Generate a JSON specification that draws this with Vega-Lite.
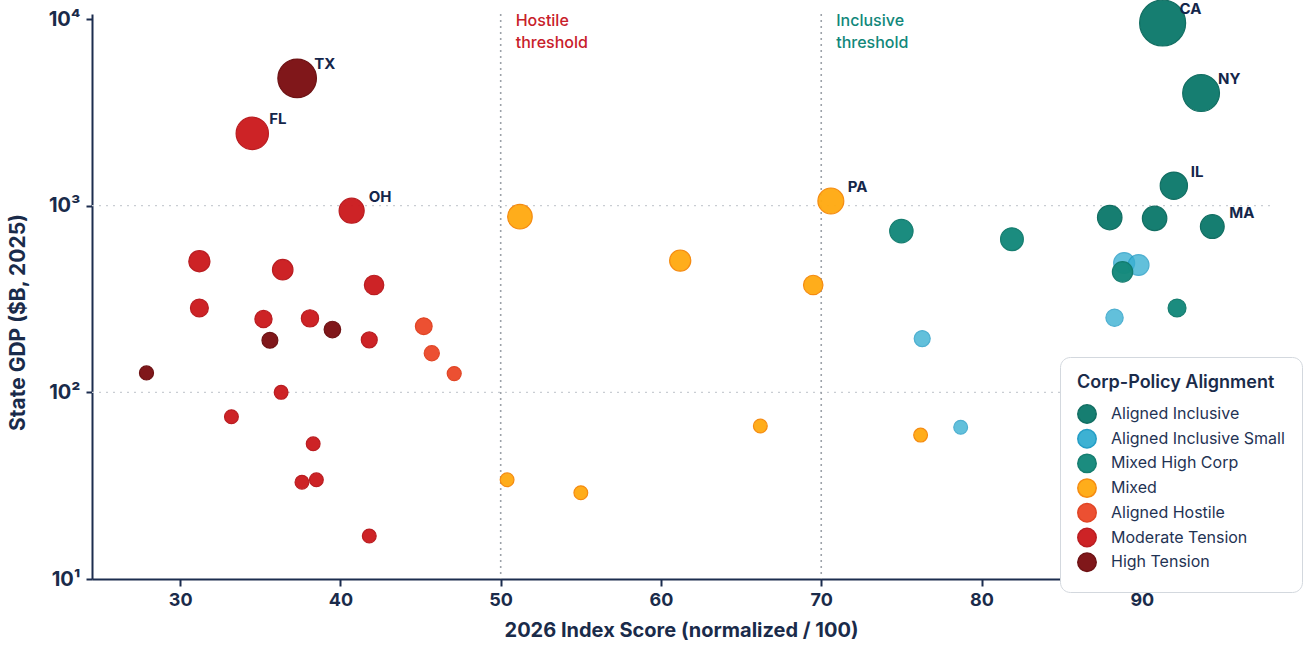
{
  "$schema": "https://vega.github.io/schema/vega-lite/v6.json",
  "width": 1178,
  "height": 565,
  "autosize": {"type": "none"},
  "padding": {"left": 92, "top": 14, "right": 43, "bottom": 69},
  "background": "white",
  "config": {
    "view": {"stroke": null},
    "font": "Inter",
    "axisX": {
      "grid": false,
      "domainColor": "#1c2d4f", "domainWidth": 2,
      "tickColor": "#1c2d4f", "tickWidth": 2, "tickSize": 7,
      "labelFontSize": 18, "labelFontWeight": "bold", "labelColor": "#1a2b4a", "labelPadding": 5,
      "titleFontSize": 20, "titleFontWeight": "bold", "titleColor": "#1a2b4a", "titlePadding": 11
    },
    "axisY": {
      "grid": false,
      "domainColor": "#1c2d4f", "domainWidth": 2,
      "tickColor": "#1c2d4f", "tickWidth": 2, "tickSize": 6,
      "labelFontSize": 20, "labelFontWeight": "bold", "labelColor": "#1a2b4a", "labelPadding": 6,
      "titleFontSize": 21, "titleFontWeight": "bold", "titleColor": "#1a2b4a", "titlePadding": 20,
      "titleY": 308
    }
  },
  "datasets": {
    "states": [
      {"state": "TX", "score": 37.3, "gdp": 4810, "group": "High Tension"},
      {"state": "FL", "score": 34.5, "gdp": 2440, "group": "Moderate Tension"},
      {"state": "OH", "score": 40.7, "gdp": 940, "group": "Moderate Tension"},
      {"state": "", "score": 31.2, "gdp": 504, "group": "Moderate Tension"},
      {"state": "", "score": 36.4, "gdp": 454, "group": "Moderate Tension"},
      {"state": "", "score": 42.1, "gdp": 376, "group": "Moderate Tension"},
      {"state": "", "score": 31.2, "gdp": 283, "group": "Moderate Tension"},
      {"state": "", "score": 35.2, "gdp": 247, "group": "Moderate Tension"},
      {"state": "", "score": 38.1, "gdp": 249, "group": "Moderate Tension"},
      {"state": "", "score": 39.5, "gdp": 217, "group": "High Tension"},
      {"state": "", "score": 35.6, "gdp": 190, "group": "High Tension"},
      {"state": "", "score": 41.8, "gdp": 191, "group": "Moderate Tension"},
      {"state": "", "score": 45.2, "gdp": 226, "group": "Aligned Hostile"},
      {"state": "", "score": 45.7, "gdp": 162, "group": "Aligned Hostile"},
      {"state": "", "score": 47.1, "gdp": 126, "group": "Aligned Hostile"},
      {"state": "", "score": 27.9, "gdp": 127, "group": "High Tension"},
      {"state": "", "score": 36.3, "gdp": 100, "group": "Moderate Tension"},
      {"state": "", "score": 33.2, "gdp": 74, "group": "Moderate Tension"},
      {"state": "", "score": 38.3, "gdp": 53, "group": "Moderate Tension"},
      {"state": "", "score": 37.6, "gdp": 33, "group": "Moderate Tension"},
      {"state": "", "score": 38.5, "gdp": 34, "group": "Moderate Tension"},
      {"state": "", "score": 41.8, "gdp": 17, "group": "Moderate Tension"},
      {"state": "", "score": 51.2, "gdp": 873, "group": "Mixed"},
      {"state": "", "score": 61.2, "gdp": 508, "group": "Mixed"},
      {"state": "", "score": 69.5, "gdp": 376, "group": "Mixed"},
      {"state": "PA", "score": 70.6, "gdp": 1060, "group": "Mixed"},
      {"state": "", "score": 50.4, "gdp": 34, "group": "Mixed"},
      {"state": "", "score": 55.0, "gdp": 29, "group": "Mixed"},
      {"state": "", "score": 66.2, "gdp": 66, "group": "Mixed"},
      {"state": "", "score": 76.2, "gdp": 59, "group": "Mixed"},
      {"state": "CA", "score": 91.3, "gdp": 9520, "group": "Aligned Inclusive"},
      {"state": "NY", "score": 93.7, "gdp": 4010, "group": "Aligned Inclusive"},
      {"state": "IL", "score": 92.0, "gdp": 1280, "group": "Aligned Inclusive"},
      {"state": "", "score": 88.0, "gdp": 864, "group": "Aligned Inclusive"},
      {"state": "", "score": 90.8, "gdp": 855, "group": "Aligned Inclusive"},
      {"state": "MA", "score": 94.4, "gdp": 773, "group": "Aligned Inclusive"},
      {"state": "", "score": 75.0, "gdp": 731, "group": "Mixed High Corp"},
      {"state": "", "score": 81.9, "gdp": 661, "group": "Mixed High Corp"},
      {"state": "", "score": 88.9, "gdp": 493, "group": "Aligned Inclusive Small"},
      {"state": "", "score": 89.8, "gdp": 481, "group": "Aligned Inclusive Small"},
      {"state": "", "score": 88.8, "gdp": 442, "group": "Mixed High Corp"},
      {"state": "", "score": 92.2, "gdp": 283, "group": "Mixed High Corp"},
      {"state": "", "score": 88.3, "gdp": 251, "group": "Aligned Inclusive Small"},
      {"state": "", "score": 76.3, "gdp": 194, "group": "Aligned Inclusive Small"},
      {"state": "", "score": 78.7, "gdp": 65, "group": "Aligned Inclusive Small"}
    ],
    "grid": [{"gdp": 100}, {"gdp": 1000}],
    "thresh": [
      {"score": 50, "kind": "hostile", "label": ["Hostile", "threshold"]},
      {"score": 70, "kind": "inclusive", "label": ["Inclusive", "threshold"]}
    ]
  },
  "layer": [
    {
      "data": {"name": "grid"},
      "mark": {"type": "rule", "color": "#c9cdd3", "strokeDash": [2, 5], "strokeWidth": 1.3},
      "encoding": {
        "y": {"field": "gdp", "type": "quantitative", "title": "State GDP ($B, 2025)",
              "scale": {"type": "log", "domain": [10, 10640], "nice": false, "zero": false},
              "axis": {"values": [10, 100, 1000, 10000],
                       "labelExpr": "datum.value === 10 ? '10¹' : datum.value === 100 ? '10²' : datum.value === 1000 ? '10³' : '10⁴'"}}
      }
    },
    {
      "data": {"name": "thresh"},
      "mark": {"type": "rule", "color": "#9da2a9", "strokeDash": [2, 4], "strokeWidth": 1.6},
      "encoding": {
        "x": {"field": "score", "type": "quantitative", "title": "2026 Index Score (normalized / 100)",
              "scale": {"domain": [24.5, 98], "nice": false, "zero": false},
              "axis": {"values": [30, 40, 50, 60, 70, 80, 90]}}
      }
    },
    {
      "data": {"name": "states"},
      "mark": {"type": "circle", "strokeWidth": 1.2},
      "encoding": {
        "x": {
          "field": "score", "type": "quantitative",
          "title": "2026 Index Score (normalized / 100)",
          "scale": {"domain": [24.5, 98], "nice": false, "zero": false},
          "axis": {"values": [30, 40, 50, 60, 70, 80, 90]}
        },
        "y": {
          "field": "gdp", "type": "quantitative",
          "title": "State GDP ($B, 2025)",
          "scale": {"type": "log", "domain": [10, 10640], "nice": false, "zero": false},
          "axis": {"values": [10, 100, 1000, 10000],
                   "labelExpr": "datum.value === 10 ? '10¹' : datum.value === 100 ? '10²' : datum.value === 1000 ? '10³' : '10⁴'"}
        },
        "size": {
          "field": "gdp", "type": "quantitative", "legend": null,
          "scale": {"type": "sqrt", "domain": [120, 9520], "range": [190, 2116], "clamp": true, "zero": false}
        },
        "fill": {
          "field": "group", "type": "nominal",
          "scale": {
            "domain": ["Aligned Inclusive", "Aligned Inclusive Small", "Mixed High Corp", "Mixed", "Aligned Hostile", "Moderate Tension", "High Tension"],
            "range": ["#0f7a6d", "#37afd2", "#14897b", "#ffab14", "#ec4b2c", "#cc1c20", "#7c1013"]
          },
          "legend": {
            "title": "Corp-Policy Alignment",
            "orient": "none", "legendX": 968, "legendY": 343,
            "padding": 17, "cornerRadius": 10,
            "strokeColor": "#d3d8de", "fillColor": "white",
            "titleFontSize": 18, "titleFontWeight": 600, "titleColor": "#1a2b4a", "titlePadding": 12, "titleLimit": 400,
            "labelFontSize": 16, "labelColor": "#1f3354", "labelOffset": 14, "labelLimit": 400,
            "symbolType": "circle", "symbolSize": 340, "rowPadding": -1.3
          }
        },
        "stroke": {
          "field": "group", "type": "nominal",
          "scale": {
            "domain": ["Aligned Inclusive", "Aligned Inclusive Small", "Mixed High Corp", "Mixed", "Aligned Hostile", "Moderate Tension", "High Tension"],
            "range": ["#0b6a5e", "#1e9ac4", "#0f7a6c", "#f5880a", "#e0401f", "#b8161a", "#6a0c0e"]
          }
        },
        "opacity": {
          "condition": {"test": "datum.group === 'Aligned Inclusive Small'", "value": 0.78},
          "value": 0.97
        }
      }
    },
    {
      "data": {"name": "states"},
      "transform": [{"filter": "datum.state !== ''"}],
      "mark": {"type": "text", "align": "left", "baseline": "middle", "dx": 17, "dy": -14,
               "fontSize": 15, "fontWeight": "bold", "color": "#14264a"},
      "encoding": {
        "x": {"field": "score", "type": "quantitative", "title": "2026 Index Score (normalized / 100)",
              "scale": {"domain": [24.5, 98], "nice": false, "zero": false},
              "axis": {"values": [30, 40, 50, 60, 70, 80, 90]}},
        "y": {"field": "gdp", "type": "quantitative", "title": "State GDP ($B, 2025)",
              "scale": {"type": "log", "domain": [10, 10640], "nice": false, "zero": false},
              "axis": {"values": [10, 100, 1000, 10000],
                       "labelExpr": "datum.value === 10 ? '10¹' : datum.value === 100 ? '10²' : datum.value === 1000 ? '10³' : '10⁴'"}},
        "text": {"field": "state"}
      }
    },
    {
      "data": {"name": "thresh"},
      "mark": {"type": "text", "align": "left", "baseline": "top", "dx": 15, "dy": -6,
               "fontSize": 16, "fontWeight": 500, "lineHeight": 22},
      "encoding": {
        "x": {"field": "score", "type": "quantitative", "title": "2026 Index Score (normalized / 100)",
              "scale": {"domain": [24.5, 98], "nice": false, "zero": false},
              "axis": {"values": [30, 40, 50, 60, 70, 80, 90]}},
        "y": {"datum": 10000, "type": "quantitative", "title": "State GDP ($B, 2025)",
              "scale": {"type": "log", "domain": [10, 10640], "nice": false, "zero": false},
              "axis": {"values": [10, 100, 1000, 10000],
                       "labelExpr": "datum.value === 10 ? '10¹' : datum.value === 100 ? '10²' : datum.value === 1000 ? '10³' : '10⁴'"}},
        "text": {"field": "label"},
        "color": {
          "condition": {"test": "datum.kind === 'hostile'", "value": "#c8202a"},
          "value": "#11877a"
        }
      }
    }
  ]
}
